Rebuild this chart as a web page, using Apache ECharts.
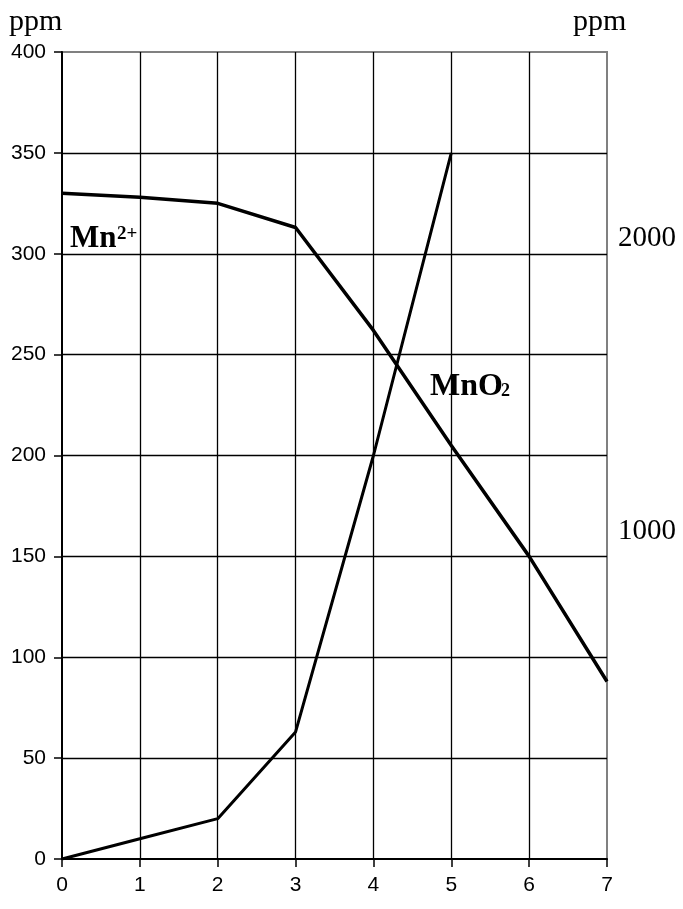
<!DOCTYPE html>
<html>
<head>
<meta charset="utf-8">
<script src="https://cdn.jsdelivr.net/npm/echarts@6/dist/echarts.min.js"></script>
<style>
html,body{margin:0;padding:0;background:#fff;}
#chart{width:683px;height:909px;}
</style>
</head>
<body>
<div id="chart"></div>
<script>
var xTicks = [0, 1, 2, 3, 4, 5, 6, 7];
var mn2X = [0, 1, 2, 3, 4, 5, 6, 7];
var mn2Values = [330, 328, 325, 313, 262, 205, 150, 88];
var mno2X = [0, 1, 2, 3, 4, 5];
var mno2Values = [0, 10, 20, 63, 200, 350];
var leftTicks = [0, 50, 100, 150, 200, 250, 300, 350, 400];
var rightTickLabels = [1000, 2000];
var unitName = 'ppm';

var SANS = '"Liberation Sans", Arial, sans-serif';
var SERIF = '"Liberation Serif", "Times New Roman", serif';

function pairs(xs, ys) { return xs.map(function (x, i) { return [x, ys[i]]; }); }

var chart = echarts.init(document.getElementById('chart'), null, {renderer: 'canvas'});
chart.setOption({
  animation: false,
  backgroundColor: '#fff',
  grid: {left: 62, right: 76, top: 52, bottom: 50, show: true, borderColor: '#808080', borderWidth: 2,
         backgroundColor: 'transparent', containLabel: false, outerBoundsMode: 'none'},
  xAxis: {
    type: 'value', min: xTicks[0], max: xTicks[xTicks.length - 1], interval: 1,
    axisLine: {show: true, onZero: false, lineStyle: {color: '#000', width: 2}},
    axisTick: {show: true, inside: false, length: 8, lineStyle: {color: '#000', width: 1.5}},
    axisLabel: {margin: 16, color: '#000', fontFamily: SANS, fontSize: 21},
    splitLine: {show: true, showMinLine: false, showMaxLine: false, lineStyle: {color: '#000', width: 1.3}}
  },
  yAxis: [{
    type: 'value', position: 'left', min: leftTicks[0], max: leftTicks[leftTicks.length - 1], interval: 50,
    axisLine: {show: true, onZero: false, lineStyle: {color: '#000', width: 2}},
    axisTick: {show: true, inside: false, length: 8, lineStyle: {color: '#000', width: 1.5}},
    axisLabel: {margin: 16, color: '#000', fontFamily: SANS, fontSize: 21},
    splitLine: {show: true, showMinLine: false, showMaxLine: false, lineStyle: {color: '#000', width: 1.3}}
  }, {
    type: 'value', position: 'right', min: -119, max: 2635,
    axisLine: {show: false},
    axisTick: {show: false},
    splitLine: {show: false},
    axisLabel: {show: true, customValues: rightTickLabels, margin: 11, color: '#000', fontFamily: SERIF, fontSize: 29,
                formatter: function (v) { return String(v); }}
  }],
  series: [{
    name: 'Mn2+', type: 'line', yAxisIndex: 0, data: pairs(mn2X, mn2Values),
    showSymbol: false, symbol: 'none', lineStyle: {color: '#000', width: 3.5}, z: 5
  }, {
    name: 'MnO2', type: 'line', yAxisIndex: 0, data: pairs(mno2X, mno2Values),
    showSymbol: false, symbol: 'none', lineStyle: {color: '#000', width: 3}, z: 5
  }],
  graphic: [
    {type: 'text', left: 9, top: 7, style: {text: unitName, fontFamily: SERIF, fontSize: 30, fill: '#000'}},
    {type: 'text', left: 573, top: 7, style: {text: unitName, fontFamily: SERIF, fontSize: 30, fill: '#000'}},
    {type: 'text', left: 70, top: 223, style: {text: 'Mn', fontFamily: SERIF, fontWeight: 'bold', fontSize: 31, fill: '#000'}},
    {type: 'text', left: 117, top: 225, style: {text: '2+', fontFamily: SERIF, fontWeight: 'bold', fontSize: 19, fill: '#000'}},
    {type: 'text', left: 430, top: 371, style: {text: 'MnO', fontFamily: SERIF, fontWeight: 'bold', fontSize: 32, fill: '#000'}},
    {type: 'text', left: 501, top: 382, style: {text: '2', fontFamily: SERIF, fontWeight: 'bold', fontSize: 18, fill: '#000'}}
  ]
});
</script>
</body>
</html>
